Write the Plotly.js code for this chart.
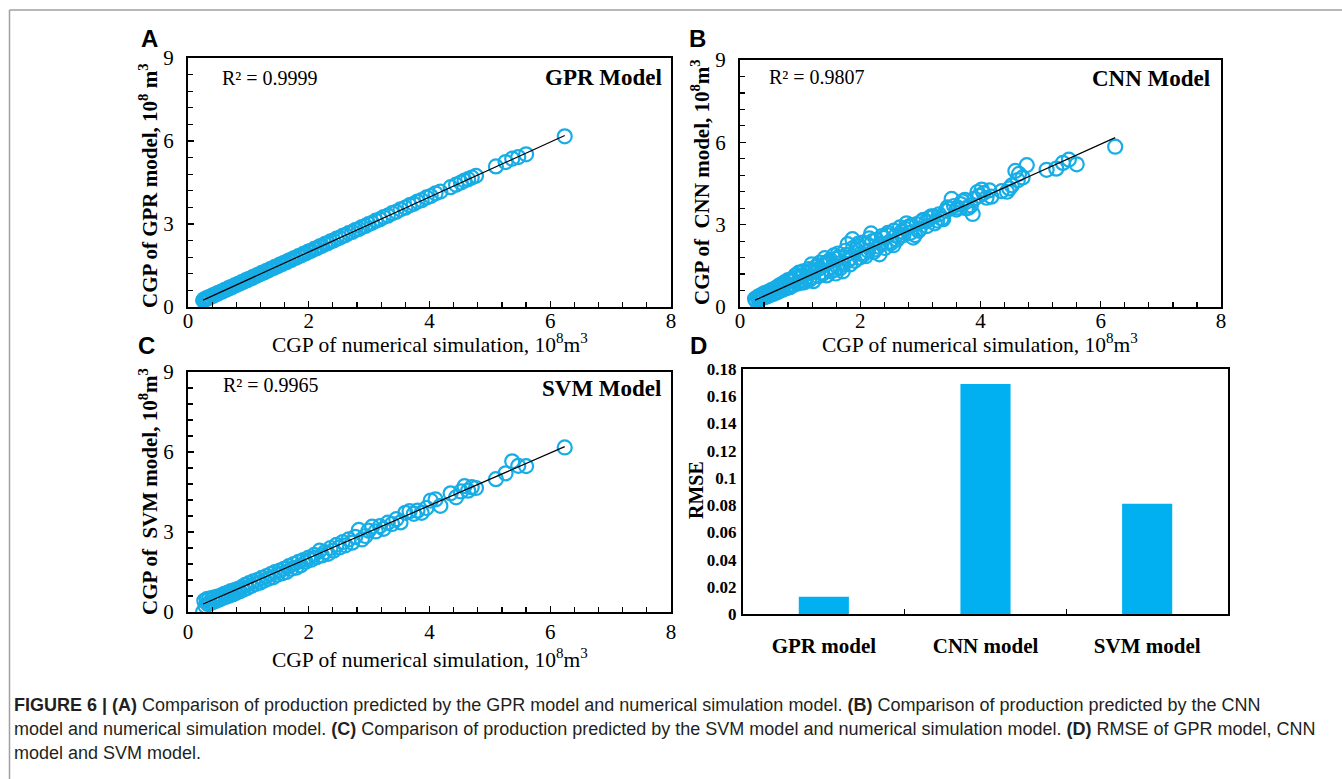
<!DOCTYPE html>
<html><head><meta charset="utf-8">
<script src="https://cdn.plot.ly/plotly-3.0.1.min.js"></script>
<style>html,body{margin:0;padding:0;background:#fff;} #chart{width:1342px;height:779px;}</style>
</head><body><div id="chart"></div>
<script>
// ---- data ----
const simCGP = [0.25,0.27,0.29,0.31,0.33,0.35,0.37,0.40,0.42,0.44,0.47,0.49,0.52,0.55,0.57,0.60,0.63,0.66,0.68,0.71,0.74,0.77,0.80,0.83,0.86,0.89,0.92,0.95,0.98,
1.01,1.05,1.08,1.12,1.15,1.19,1.22,1.26,1.30,1.33,1.37,1.41,1.44,1.48,1.52,1.56,1.59,1.63,1.67,1.71,1.75,1.79,1.83,1.87,1.91,1.95,1.99,
2.04,2.09,2.13,2.18,2.22,2.27,2.32,2.36,2.41,2.46,2.51,2.56,2.61,2.66,2.72,2.77,2.83,2.88,2.94,2.99,
3.05,3.11,3.18,3.24,3.31,3.38,3.45,3.52,3.60,3.67,3.74,3.80,3.87,3.95,4.02,4.10,4.18,
4.35,4.44,4.52,4.58,4.64,4.70,4.77,
5.10,5.26,5.37,5.47,5.60,6.24];

const gprCGP = [0.24,0.28,0.28,0.32,0.32,0.36,0.36,0.41,0.41,0.45,0.46,0.50,0.51,0.56,0.56,0.61,0.62,0.67,0.67,0.72,0.73,0.78,0.79,0.84,0.85,0.90,0.91,0.96,0.97,
1.02,1.04,1.09,1.11,1.16,1.18,1.23,1.25,1.31,1.32,1.38,1.40,1.45,1.47,1.53,1.55,1.60,1.62,1.68,1.70,1.76,1.78,1.84,1.86,1.92,1.94,2.00,
2.03,2.10,2.12,2.19,2.21,2.28,2.31,2.37,2.40,2.47,2.50,2.57,2.60,2.67,2.71,2.78,2.82,2.89,2.93,3.00,
3.04,3.12,3.17,3.25,3.30,3.39,3.44,3.53,3.59,3.68,3.73,3.81,3.86,3.96,4.01,4.11,4.17,
4.33,4.42,4.50,4.57,4.62,4.68,4.74,
5.08,5.24,5.36,5.42,5.52,6.17];

const cnnCGP = [0.30,0.22,0.36,0.27,0.41,0.30,0.46,0.35,0.52,0.40,0.55,0.43,0.62,0.47,0.66,0.52,0.75,0.58,0.82,0.63,0.90,0.68,0.98,0.72,1.02,0.80,1.15,0.85,1.25,
0.88,1.30,0.96,1.22,0.98,1.55,0.94,1.45,1.12,1.62,1.20,1.78,1.15,1.66,1.30,1.88,1.22,1.95,1.42,1.30,2.05,2.29,1.55,2.47,1.68,2.20,1.80,
2.35,1.85,2.05,2.68,2.00,2.45,1.92,2.58,2.15,2.70,2.32,2.78,2.45,2.90,2.62,3.05,2.70,2.53,3.02,2.85,
3.18,2.95,3.30,3.05,3.38,3.20,3.63,3.94,3.55,3.75,3.90,3.62,3.39,4.19,4.28,3.98,4.02,
4.22,4.20,4.43,4.96,4.85,4.72,5.17,
5.00,5.04,5.25,5.37,5.20,5.84];

const cnnExtraSim = [0.30,0.38,0.45,0.53,0.62,0.70,0.78,0.87,0.96,1.03,1.10,1.17,1.24,1.32,1.39,1.46,1.54,1.61,1.69,1.77,1.85,1.93,2.01,2.11,2.20,2.30,2.39,2.49,2.59,2.69,2.80,2.91,3.02,3.15,3.28,3.42,3.56,3.70,3.84,3.98,
0.35,0.50,0.65,0.75,0.85,0.93,1.00,1.07,1.14,1.21,1.28,1.35,1.42,1.50,1.57,1.64,1.72,1.80,1.88,1.96,2.05,2.15,2.25,2.35,2.45,2.55,2.65,2.75,2.85,2.97,3.10,3.22,3.35,3.48,3.62,3.76,3.90,4.05,4.15,4.48,4.62];
const cnnExtraPred = [0.35,0.44,0.38,0.58,0.55,0.78,0.74,0.95,0.90,1.12,1.05,1.32,1.28,1.40,1.52,1.60,1.45,1.75,1.62,1.90,1.78,2.10,1.95,2.30,2.40,2.20,2.52,2.38,2.60,2.75,2.92,2.62,3.12,3.25,3.15,3.50,3.68,3.85,3.70,4.05,
0.40,0.52,0.70,0.85,0.78,1.05,1.15,0.90,1.38,1.08,1.50,1.25,1.60,1.72,1.35,1.82,1.55,1.70,2.15,2.30,1.90,2.50,2.10,2.30,2.62,2.25,2.55,2.85,2.98,2.78,3.12,3.30,3.22,3.58,3.62,3.60,3.95,4.15,4.25,4.32,4.62];

const svmCGP = [0.00,0.42,0.22,0.48,0.30,0.50,0.33,0.52,0.38,0.55,0.42,0.58,0.47,0.62,0.52,0.68,0.57,0.73,0.61,0.78,0.66,0.82,0.72,0.87,0.78,0.93,0.84,1.02,0.90,
1.08,0.98,1.15,1.05,1.20,1.10,1.28,1.18,1.35,1.25,1.42,1.30,1.50,1.40,1.55,1.45,1.62,1.50,1.72,1.62,1.80,1.66,1.88,1.75,1.95,1.88,2.03,
1.96,2.14,2.05,2.30,2.12,2.25,2.18,2.40,2.30,2.52,2.42,2.62,2.50,2.72,2.60,2.82,3.08,2.72,2.85,3.05,
3.20,3.02,3.22,3.12,3.35,3.30,3.48,3.36,3.72,3.78,3.68,3.80,3.72,3.90,4.18,4.22,3.98,
4.45,4.30,4.52,4.72,4.55,4.68,4.65,
4.98,5.20,5.65,5.48,5.47,6.17];

const fitSim = [0.25, 6.24];
const fitGPR = [0.25, 6.20];
const fitCNN = [0.25, 6.17];
const fitSVM = [0.30, 6.20];

const r2Labels = ['R² = 0.9999', 'R² = 0.9807', 'R² = 0.9965'];
const modelLabels = ['GPR Model', 'CNN Model', 'SVM Model'];
const yTitles = ['CGP of GPR model, 10<sup>8</sup> m<sup>3</sup>', 'CGP of  CNN model, 10<sup>8</sup>m<sup>3</sup>', 'CGP of  SVM model, 10<sup>8</sup>m<sup>3</sup>'];
const xTitle = 'CGP of numerical simulation, 10<sup>8</sup>m<sup>3</sup>';

const rmseModels = ['GPR model', 'CNN model', 'SVM model'];
const rmseValues = [0.0127, 0.169, 0.081];
const rmseTickVals = [0, 0.02, 0.04, 0.06, 0.08, 0.1, 0.12, 0.14, 0.16, 0.18];
const rmseTickText = ['0', '0.02', '0.04', '0.06', '0.08', '0.1', '0.12', '0.14', '0.16', '0.18'];
const xTickVals = [0, 2, 4, 6, 8];
const yTickVals = [0, 3, 6, 9];

// ---- styling ----
const W = 1342, H = 779;
const SERIF = 'Liberation Serif, Times New Roman, serif';
const SANS = 'Liberation Sans, Arial, sans-serif';
const blue = '#17ade6';
const px = v => v / W;
const py = v => 1 - v / H;

function scatterTrace(x, y, xa, ya) {
  return {x, y, xaxis: xa, yaxis: ya, type: 'scatter', mode: 'markers', hoverinfo: 'x+y',
    marker: {symbol: 'circle-open', size: 14, color: blue, line: {width: 2.2, color: blue}}};
}
function fitTrace(x, y, xa, ya) {
  return {x, y, xaxis: xa, yaxis: ya, type: 'scatter', mode: 'lines', hoverinfo: 'skip',
    line: {color: '#000', width: 1.2}};
}

const traces = [
  scatterTrace(simCGP, gprCGP, 'x', 'y'),
  fitTrace(fitSim, fitGPR, 'x', 'y'),
  scatterTrace(simCGP.concat(cnnExtraSim), cnnCGP.concat(cnnExtraPred), 'x2', 'y2'),
  fitTrace(fitSim, fitCNN, 'x2', 'y2'),
  scatterTrace(simCGP, svmCGP, 'x3', 'y3'),
  fitTrace(fitSim, fitSVM, 'x3', 'y3'),
  {x: rmseModels, y: rmseValues, xaxis: 'x4', yaxis: 'y4', type: 'bar', width: 0.31,
   marker: {color: '#00b0f0'}}
];

function xAx(dom, anchor, lblOff) {
  return {domain: dom, anchor, range: [0, 8], tickvals: xTickVals, showline: true, mirror: true,
    linecolor: '#000', linewidth: 2, showgrid: false, zeroline: false,
    ticks: 'inside', ticklen: 6, tickwidth: 1.2, tickcolor: '#000',
    minor: {dtick: 0.4, tick0: 0, ticks: 'inside', ticklen: 5, tickwidth: 1.2, tickcolor: '#000', showgrid: false},
    tickfont: {family: SERIF, size: 21, color: '#000'}, ticklabelstandoff: lblOff};
}
function yAx(dom, anchor) {
  return {domain: dom, anchor, range: [0, 9], tickvals: yTickVals, showline: true, mirror: true,
    linecolor: '#000', linewidth: 2, showgrid: false, zeroline: false,
    ticks: 'inside', ticklen: 6, tickwidth: 1.2, tickcolor: '#000',
    minor: {dtick: 0.6, tick0: 0, ticks: 'inside', ticklen: 5, tickwidth: 1.2, tickcolor: '#000', showgrid: false},
    tickfont: {family: SERIF, size: 21, color: '#000'}, ticklabelstandoff: 8};
}

const domA = {x: [px(188), px(671)], y: [py(307), py(58)]};
const domB = {x: [px(740), px(1221)], y: [py(307), py(60)]};
const domC = {x: [px(188), px(671)], y: [py(612), py(372)]};
const domD = {x: [px(743), px(1228)], y: [py(614), py(369)]};

function panelText(xr, yr, r2, model, r2x, r2y, mx, my) {
  return [
    {xref: xr + ' domain', yref: yr + ' domain', x: r2x, y: r2y, xanchor: 'left', yanchor: 'middle',
     text: r2, showarrow: false, font: {family: SERIF, size: 20, color: '#000'}},
    {xref: xr + ' domain', yref: yr + ' domain', x: mx, y: my, xanchor: 'right', yanchor: 'middle',
     text: '<b>' + model + '</b>', showarrow: false, font: {family: SERIF, size: 23, color: '#000'}}
  ];
}
function paperText(t, x, y, font, opts) {
  return Object.assign({xref: 'paper', yref: 'paper', x: px(x), y: py(y), xanchor: 'center', yanchor: 'middle',
    text: t, showarrow: false, font}, opts || {});
}
const fLetter = {family: SANS, size: 24, color: '#000'};
const fXTitle = {family: SERIF, size: 21.5, color: '#000'};
const fYTitle = {family: SERIF, size: 21, color: '#000'};
const fRmse = {family: SERIF, size: 20, color: '#000'};
const fCap = {family: SANS, size: 18, color: '#231f20'};

const annotations = [].concat(
  panelText('x', 'y', r2Labels[0], modelLabels[0], 0.066, 0.92, 0.985, 0.92),
  panelText('x2', 'y2', r2Labels[1], modelLabels[1], 0.057, 0.93, 0.981, 0.925),
  panelText('x3', 'y3', r2Labels[2], modelLabels[2], 0.068, 0.946, 0.983, 0.933),
  [paperText('<b>A</b>', 149, 38, fLetter), paperText('<b>B</b>', 697, 38, fLetter),
   paperText('<b>C</b>', 146, 345, fLetter), paperText('<b>D</b>', 698, 345, fLetter),
   paperText(xTitle, 430, 343, fXTitle), paperText(xTitle, 980, 343, fXTitle), paperText(xTitle, 430, 658, fXTitle),
   paperText('<b>' + yTitles[0] + '</b>', 148, 186, fYTitle, {textangle: -90}),
   paperText('<b>' + yTitles[1] + '</b>', 700, 182, fYTitle, {textangle: -90}),
   paperText('<b>' + yTitles[2] + '</b>', 148, 492, fYTitle, {textangle: -90}),
   paperText('<b>RMSE</b>', 696, 490, fRmse, {textangle: -90}),
   paperText('<b>FIGURE 6 | (A)</b> Comparison of production predicted by the GPR model and numerical simulation model. <b>(B)</b> Comparison of production predicted by the CNN', 12, 705, fCap, {xanchor: 'left'}),
   paperText('model and numerical simulation model. <b>(C)</b> Comparison of production predicted by the SVM model and numerical simulation model. <b>(D)</b> RMSE of GPR model, CNN', 12, 729, fCap, {xanchor: 'left'}),
   paperText('model and SVM model.', 12, 753, fCap, {xanchor: 'left'})]
);

const layout = {
  width: W, height: H, margin: {l: 0, r: 0, t: 0, b: 0}, showlegend: false,
  paper_bgcolor: '#fff', plot_bgcolor: '#fff',
  xaxis: xAx(domA.x, 'y', -6), yaxis: yAx(domA.y, 'x'),
  xaxis2: xAx(domB.x, 'y2', -6), yaxis2: yAx(domB.y, 'x2'),
  xaxis3: xAx(domC.x, 'y3', 0), yaxis3: yAx(domC.y, 'x3'),
  xaxis4: {domain: domD.x, anchor: 'y4', type: 'category', showline: true, mirror: true,
    linecolor: '#000', linewidth: 2, showgrid: false, zeroline: false,
    ticks: 'inside', tickson: 'boundaries', ticklen: 5, tickwidth: 1.5, tickcolor: '#000',
    tickfont: {family: SERIF, size: 21, color: '#000', weight: 'bold'}, ticklabelstandoff: 12},
  yaxis4: {domain: domD.y, anchor: 'x4', range: [0, 0.18], tickvals: rmseTickVals, ticktext: rmseTickText,
    showline: true, mirror: true, linecolor: '#000', linewidth: 2, showgrid: false, zeroline: false,
    ticks: '', ticklabelstandoff: 1, tickfont: {family: SERIF, size: 17, color: '#000', weight: 'bold'}},
  annotations,
  shapes: [
    {type: 'line', xref: 'paper', yref: 'paper', x0: px(9.5), x1: 1, y0: py(10), y1: py(10), line: {color: '#a0a0a0', width: 1.5}},
    {type: 'line', xref: 'paper', yref: 'paper', x0: px(9.5), x1: px(9.5), y0: py(10), y1: 0, line: {color: '#a0a0a0', width: 1.5}}
  ]
};

Plotly.newPlot('chart', traces, layout, {displayModeBar: false, staticPlot: true});
</script>
</body></html>
